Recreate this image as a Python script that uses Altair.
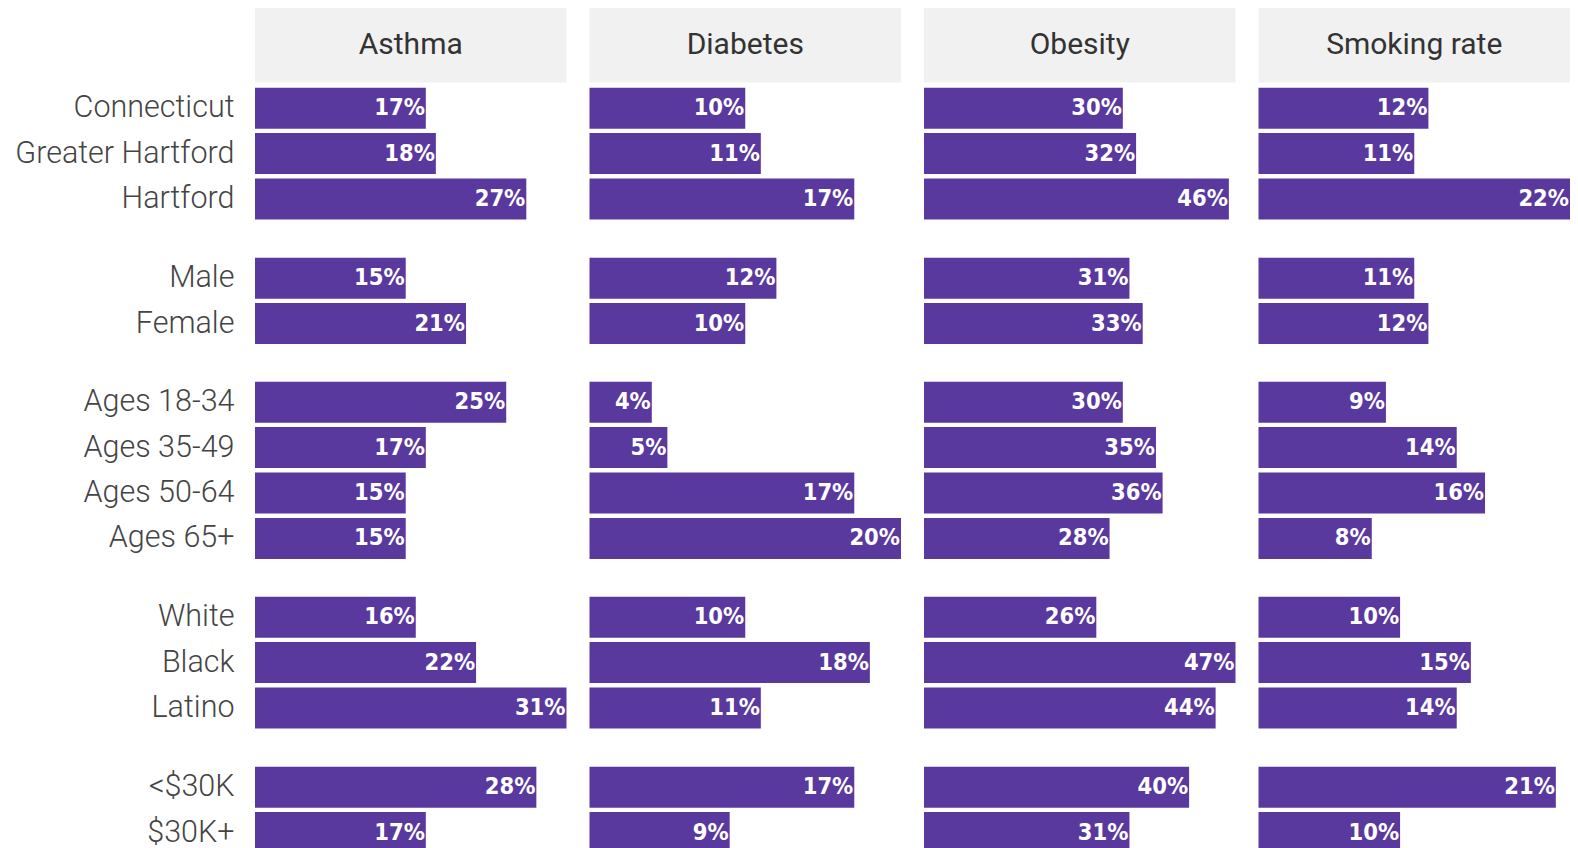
import altair as alt
import pandas as pd

measures = ["Asthma", "Diabetes", "Obesity", "Smoking rate"]

groups = [
    ["Connecticut", "Greater Hartford", "Hartford"],
    ["Male", "Female"],
    ["Ages 18-34", "Ages 35-49", "Ages 50-64", "Ages 65+"],
    ["White", "Black", "Latino"],
    ["<$30K", "$30K+"],
]

asthma = [17, 18, 27, 15, 21, 25, 17, 15, 15, 16, 22, 31, 28, 17]
diabetes = [10, 11, 17, 12, 10, 4, 5, 17, 20, 10, 18, 11, 17, 9]
obesity = [30, 32, 46, 31, 33, 30, 35, 36, 28, 26, 47, 44, 40, 31]
smoking = [12, 11, 22, 11, 12, 9, 14, 16, 8, 10, 15, 14, 21, 10]

series = [asthma, diabetes, obesity, smoking]

rows = []
for m, vals in zip(measures, series):
    i = 0
    for gi, g in enumerate(groups):
        for c in g:
            rows.append({"measure": m, "group": gi, "category": c, "value": vals[i]})
            i += 1
df = pd.DataFrame(rows)

PURPLE = "#5a399f"
LABEL_FONT = "Roboto"
VALUE_FONT = "DejaVu Sans Condensed"
W = 311.5
STEP = 45.4
EXT = 247
SPACING = 22.5
PAD_IN = 0.097


def yaxis(labels=True):
    return alt.Axis(
        title=None,
        minExtent=EXT,
        maxExtent=EXT,
        labels=labels,
        labelFont=LABEL_FONT,
        labelFontWeight=300,
        labelFontSize=30.5,
        labelColor="#444444",
        labelPadding=21,
        labelLimit=0,
        ticks=False,
        domain=False,
        grid=False,
    )


# header row
hdr_df = pd.DataFrame({"measure": measures})
hbase = alt.Chart().transform_calculate(hy="'h'")
hrect = hbase.mark_rect(color="#f1f1f1").encode(
    x=alt.value(0),
    x2=alt.value(W),
    y=alt.Y("hy:N", axis=yaxis(False), scale=alt.Scale(paddingInner=0, paddingOuter=0)),
)
htext = hbase.mark_text(font=LABEL_FONT, fontSize=30, fontWeight=400, color="#333333").encode(
    x=alt.value(W / 2),
    y=alt.Y("hy:N"),
    text="measure:N",
)
header = (
    alt.layer(hrect, htext, data=hdr_df)
    .properties(width=W, height=74.5)
    .facet(column=alt.Column("measure:N", header=None, sort=measures), spacing=SPACING)
)

group_charts = []
for gi, g in enumerate(groups):
    bars = alt.Chart().mark_bar(color=PURPLE).encode(
        x=alt.X("frac:Q", scale=alt.Scale(domain=[0, 1], nice=False), axis=None),
        y=alt.Y(
            "category:N",
            sort=g,
            axis=yaxis(True),
            scale=alt.Scale(paddingInner=PAD_IN, paddingOuter=PAD_IN / 2),
        ),
    )
    txt = alt.Chart().mark_text(
        align="right", dx=-1, font=VALUE_FONT, fontWeight="bold", fontSize=23.5, color="white"
    ).encode(
        x=alt.X("frac:Q"),
        y=alt.Y("category:N", sort=g),
        text="label:N",
    )
    ch = (
        alt.layer(bars, txt, data=df)
        .transform_joinaggregate(mx="max(value)", groupby=["measure"])
        .transform_calculate(frac="datum.value / datum.mx", label="datum.value + '%'")
        .transform_filter(alt.datum.group == gi)
        .properties(width=W, height=alt.Step(STEP))
        .facet(column=alt.Column("measure:N", header=None, sort=measures), spacing=SPACING)
    )
    group_charts.append(ch)

body = alt.vconcat(*group_charts, spacing=33)
chart = (
    alt.vconcat(header, body, spacing=2.5)
    .properties(padding=0)
    .configure_view(stroke=None)
)

chart.save("out.html", embed_options={"renderer": "svg", "actions": False})
